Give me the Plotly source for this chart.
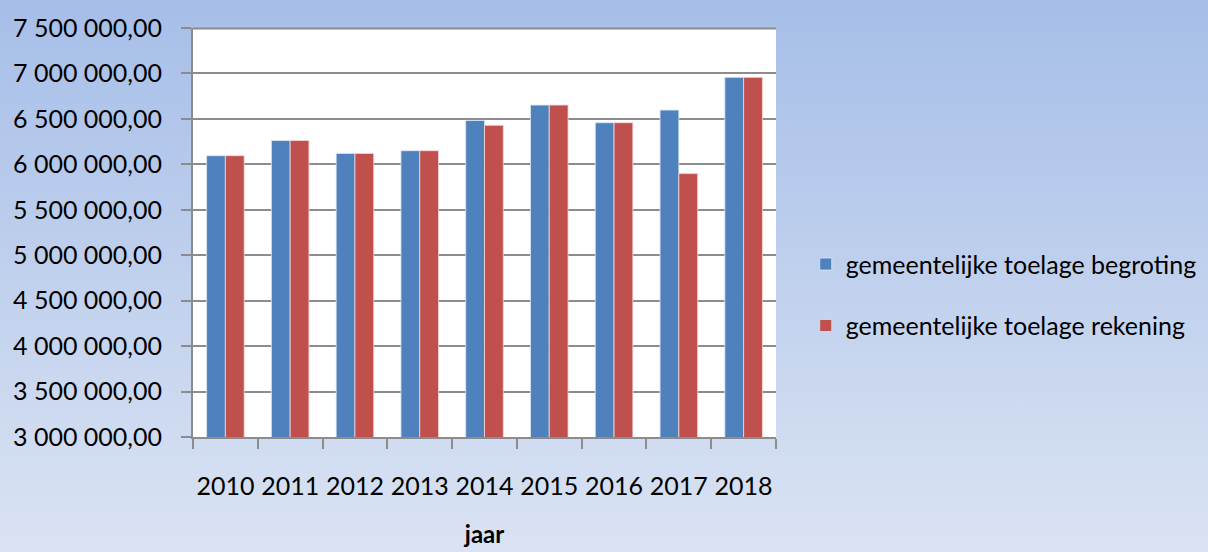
import base64
import plotly.graph_objects as go

years = ["2010", "2011", "2012", "2013", "2014", "2015", "2016", "2017", "2018"]
begroting = [6095000, 6262000, 6120000, 6150000, 6483000, 6652000, 6458000, 6597000, 6957000]
rekening = [6095000, 6262000, 6120000, 6150000, 6429000, 6652000, 6458000, 5898000, 6957000]
name_begroting = "gemeentelijke toelage begroting"
name_rekening = "gemeentelijke toelage rekening"
y_ticks = [3000000 + 500000 * i for i in range(10)]
y_tick_labels = [f"{v:,.2f}".replace(",", " ").replace(".", ",") for v in y_ticks]

FONT = "Lato"
GRID = "#8C8C8C"

svg = (
    '<svg xmlns="http://www.w3.org/2000/svg" width="100" height="100" preserveAspectRatio="none">'
    '<defs><linearGradient id="g" x1="0" y1="0" x2="0" y2="1">'
    '<stop offset="0" stop-color="#A6BEE8"/><stop offset="1" stop-color="#DAE3F3"/>'
    '</linearGradient></defs><rect width="100" height="100" fill="url(#g)"/></svg>'
)
bg_uri = "data:image/svg+xml;base64," + base64.b64encode(svg.encode()).decode()

fig = go.Figure()
fig.add_trace(go.Bar(
    x=years, y=begroting, name=name_begroting, legendgroup="a",
    marker=dict(color="#4F81BD", line=dict(color="rgba(220,230,245,0.8)", width=1)),
))
fig.add_trace(go.Bar(
    x=years, y=rekening, name=name_rekening, legendgroup="b",
    marker=dict(color="#C0504D", line=dict(color="rgba(245,215,215,0.8)", width=1)),
))

fig.update_layout(
    width=1208, height=552,
    margin=dict(l=193, r=432, t=28, b=115, autoexpand=False),
    paper_bgcolor="#DAE3F3",
    plot_bgcolor="white",
    barmode="group", bargap=0.42, bargroupgap=0,
    font=dict(family=FONT, size=25, color="black"),
    showlegend=True,
    legend=dict(
        xref="container", yref="container", x=0.667, y=0.466,
        xanchor="left", yanchor="middle",
        bgcolor="rgba(0,0,0,0)", font=dict(family=FONT, size=25),
        tracegroupgap=26, itemwidth=30,
    ),
    images=[dict(
        source=bg_uri, xref="paper", yref="paper", x=-193/583, y=1 + 28/409,
        sizex=1208/583, sizey=552/409, sizing="stretch",
        xanchor="left", yanchor="top", layer="below",
    )],
    shapes=[
        dict(
            type="rect", xref="paper", yref="paper", x0=0, x1=1, y0=0, y1=1,
            fillcolor="white", line=dict(width=0), layer="below",
        ),
        dict(
            type="line", xref="paper", x0=0, x1=1, yref="paper",
            y0=0.999, y1=0.999, line=dict(color=GRID, width=2), layer="above",
        ),
    ],
    xaxis=dict(
        type="category", showgrid=False, showline=True, linecolor=GRID, linewidth=2,
        ticks="outside", tickson="boundaries", ticklen=10, tickcolor=GRID, tickwidth=2,
        ticklabelstandoff=26, tickfont=dict(size=25), tickangle=0, automargin=False,
        title=dict(text="<b>jaar</b>", font=dict(size=24), standoff=27),
    ),
    yaxis=dict(
        range=[3000000, 7500000], tickvals=y_ticks, ticktext=y_tick_labels,
        showgrid=True, gridcolor=GRID, gridwidth=2,
        showline=True, linecolor=GRID, linewidth=2,
        ticks="outside", ticklen=10, tickcolor=GRID, tickwidth=2,
        ticklabelstandoff=14, tickfont=dict(size=25), zeroline=False, automargin=False,
    ),
)

fig.write_html(
    "out.html",
    config={"displayModeBar": False},
    post_script="document.body.style.margin='0px';document.body.style.overflow='hidden';",
)
